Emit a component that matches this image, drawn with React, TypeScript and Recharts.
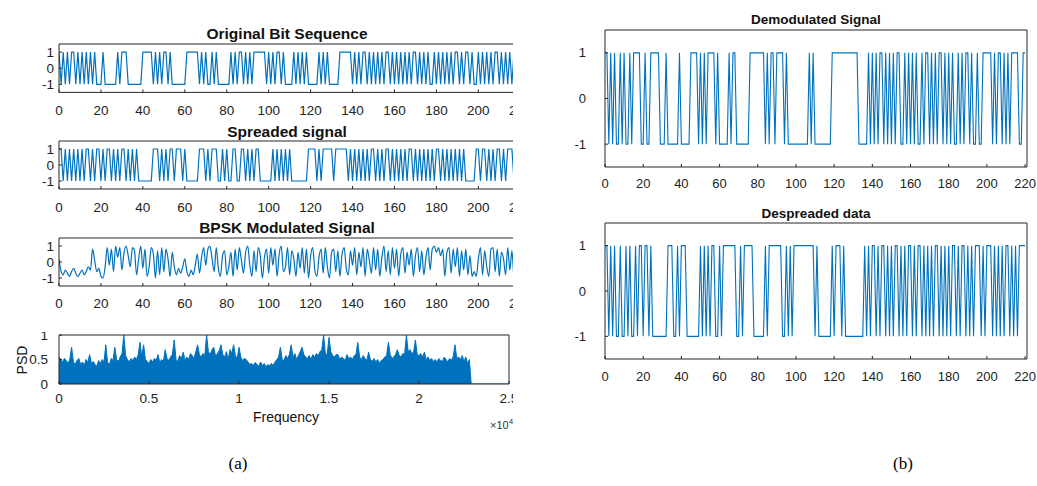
import { LineChart, Line, AreaChart, Area, XAxis, YAxis, ReferenceLine } from "recharts";

const FONT = "'Liberation Sans', Arial, sans-serif";
const AXIS = "#262626";
const BLUE = "#0072BD";

// tick labels
const signalTicks = [0, 20, 40, 60, 80, 100, 120, 140, 160, 180, 200, 220];
const levelTicks = [-1, 0, 1];
const freqTicks = [0, 5000, 10000, 15000, 20000, 25000];
const psdTicks = [0, 0.5, 1];

// bit streams (1 = +1, 0 = -1), one value per sample 0..220
const originalBits = [
  1, 0, 1, 0, 1, 0, 1, 1, 0, 1, 0, 1, 0, 1, 0, 1, 0, 1, 0, 0,
  0, 1, 0, 0, 0, 0, 0, 0, 1, 0, 1, 1, 1, 0, 0, 0, 0, 0, 0, 0,
  1, 1, 1, 1, 1, 0, 1, 0, 1, 0, 1, 1, 0, 1, 0, 0, 0, 0, 0, 0,
  0, 1, 1, 1, 1, 1, 1, 0, 1, 0, 1, 0, 0, 1, 0, 1, 0, 0, 0, 0,
  0, 0, 1, 0, 1, 0, 1, 1, 0, 1, 0, 1, 0, 1, 1, 1, 1, 1, 1, 0,
  1, 0, 1, 0, 1, 1, 0, 1, 0, 0, 0, 0, 1, 0, 1, 0, 1, 0, 1, 0,
  0, 0, 0, 0, 1, 0, 1, 0, 1, 0, 0, 0, 0, 0, 1, 1, 1, 1, 1, 1,
  0, 1, 0, 1, 0, 1, 1, 0, 1, 0, 1, 0, 1, 0, 1, 0, 1, 1, 0, 1,
  0, 1, 0, 1, 0, 1, 0, 1, 0, 1, 1, 0, 1, 0, 1, 0, 1, 0, 0, 1,
  0, 1, 0, 1, 0, 1, 0, 1, 0, 1, 1, 0, 1, 0, 1, 1, 0, 1, 0, 0,
  1, 0, 1, 0, 1, 0, 1, 0, 1, 1, 0, 1, 0, 1, 0, 1, 0, 1, 0, 1,
  0,
];

const spreadBits = [
  1, 1, 0, 1, 0, 1, 0, 1, 0, 1, 0, 1, 0, 1, 1, 0, 1, 0, 1, 1,
  0, 1, 0, 1, 1, 0, 1, 0, 1, 0, 1, 1, 0, 1, 0, 1, 0, 1, 0, 0,
  0, 0, 0, 0, 0, 1, 1, 1, 0, 1, 0, 1, 0, 1, 1, 0, 1, 1, 1, 0,
  1, 0, 0, 0, 0, 0, 0, 1, 1, 1, 0, 1, 0, 1, 1, 1, 0, 0, 1, 0,
  1, 0, 0, 1, 1, 0, 0, 1, 1, 0, 1, 0, 1, 0, 1, 1, 0, 0, 0, 0,
  0, 0, 1, 0, 1, 0, 1, 0, 1, 0, 1, 0, 0, 0, 0, 0, 0, 0, 0, 1,
  1, 1, 1, 0, 1, 0, 1, 1, 1, 1, 1, 0, 1, 1, 1, 1, 1, 1, 0, 1,
  0, 1, 0, 1, 0, 1, 0, 1, 0, 1, 1, 0, 1, 0, 1, 0, 1, 1, 0, 1,
  0, 1, 0, 1, 0, 1, 0, 1, 1, 0, 1, 0, 1, 0, 1, 0, 1, 0, 1, 0,
  1, 1, 0, 1, 0, 1, 0, 1, 0, 1, 0, 1, 0, 1, 0, 0, 0, 0, 0, 1,
  1, 0, 1, 1, 0, 1, 0, 1, 0, 1, 1, 0, 1, 0, 1, 1, 1, 0, 1, 0,
  1,
];

const demodBits = [
  1, 1, 0, 1, 0, 1, 0, 0, 1, 0, 1, 0, 0, 1, 0, 1, 1, 1, 1, 0,
  0, 1, 0, 0, 1, 1, 1, 1, 1, 0, 0, 0, 1, 0, 0, 0, 0, 0, 0, 1,
  0, 0, 0, 0, 0, 1, 1, 1, 1, 0, 1, 0, 1, 0, 1, 1, 1, 1, 0, 1,
  0, 0, 0, 0, 0, 1, 0, 1, 1, 0, 0, 0, 0, 0, 0, 0, 1, 1, 1, 1,
  1, 1, 1, 1, 0, 1, 0, 1, 1, 0, 1, 1, 1, 1, 0, 1, 0, 0, 0, 0,
  0, 0, 0, 0, 0, 0, 0, 1, 0, 1, 0, 0, 0, 0, 0, 0, 0, 0, 0, 1,
  1, 1, 1, 1, 1, 1, 1, 1, 1, 1, 1, 1, 1, 0, 0, 0, 0, 0, 1, 0,
  1, 0, 1, 0, 1, 1, 0, 1, 0, 1, 0, 1, 0, 1, 1, 0, 0, 1, 0, 1,
  0, 1, 0, 1, 0, 0, 1, 0, 1, 1, 0, 1, 0, 1, 0, 1, 1, 0, 1, 0,
  1, 0, 1, 0, 0, 1, 0, 1, 0, 1, 1, 0, 1, 0, 0, 1, 0, 0, 1, 1,
  1, 1, 1, 0, 1, 0, 1, 1, 0, 1, 0, 1, 0, 1, 1, 1, 1, 0, 0, 1,
  1,
];

const despreadBits = [
  1, 1, 0, 1, 0, 1, 0, 0, 1, 0, 0, 1, 0, 1, 0, 0, 1, 0, 1, 1,
  0, 1, 1, 0, 1, 0, 0, 0, 0, 0, 0, 0, 0, 1, 1, 1, 0, 0, 1, 0,
  1, 1, 1, 0, 0, 0, 0, 0, 0, 0, 1, 0, 1, 0, 1, 0, 1, 1, 0, 0,
  1, 0, 1, 1, 1, 1, 1, 1, 1, 0, 0, 1, 0, 1, 1, 1, 1, 1, 0, 0,
  0, 0, 0, 0, 1, 0, 1, 1, 1, 1, 1, 1, 1, 0, 0, 1, 0, 1, 0, 1,
  1, 1, 1, 1, 1, 1, 1, 1, 1, 1, 0, 1, 0, 0, 0, 0, 0, 0, 0, 1,
  0, 1, 1, 1, 0, 1, 0, 0, 0, 0, 0, 0, 0, 0, 0, 0, 1, 0, 1, 0,
  1, 1, 0, 1, 0, 1, 1, 0, 1, 0, 1, 0, 1, 1, 0, 1, 0, 1, 0, 1,
  1, 0, 1, 0, 1, 1, 0, 1, 0, 1, 0, 1, 0, 1, 1, 0, 1, 0, 1, 0,
  1, 0, 1, 1, 0, 1, 0, 1, 1, 0, 1, 0, 1, 0, 1, 1, 1, 0, 1, 0,
  1, 1, 1, 0, 1, 0, 1, 0, 1, 0, 1, 1, 0, 1, 0, 1, 0, 1, 1, 1,
  1,
];

// BPSK modulated waveform, samples 0..220
const bpskValues = [
  0.2, -0.6, -0.8, -0.5, -0.7, -0.9, -0.6, -0.4, -0.7, -0.9, -0.7, -0.5, -0.8, -0.6, -0.3, -0.5,
  0.8, 0.1, -0.6, -0.4, -0.9, -1.0, -0.3,
  0.9, -0.2, 0.8, -0.6, 1.0, 0.3, 0.9, -0.5, 0.6, 1.0, 0.4, -0.3, 0.9, 0.7, -0.8, 0.2, 1.0, -0.4,
  0.8, -0.9, -0.3, 0.9, 0.5, -1.0, 0.7, -0.8, 0.9, -0.6, 0.8, 0.2, -0.9, 0.6, -0.3,
  -0.8, -0.4, -0.7, -0.3, 0.2, -0.6, -0.9, -0.5, -0.8, -0.2, 0.5, -0.7, 0.3, 0.9, -0.2,
  0.8, 1.0, 0.2, -0.6, 0.9, -0.4, -0.9, 0.4, 0.7, -0.8, -0.3, 0.6, -0.9, 0.8, -0.5,
  0.9, 0.1, -0.7, 0.6, 1.0, -0.2, -0.9, 0.7, -0.6, 0.9, 0.4, -1.0, 0.3, 0.8, -0.7,
  0.9, -0.2, 0.8, -0.9, 0.5, 1.0, -0.6, -0.3, 0.9, -0.8, 0.7, 0.2, -0.9, 0.6, -0.4, 0.9, -0.7, 0.8, -1.0, 0.4,
  0.9, -0.5, -0.9, 0.3, 0.8, -0.7, 0.9, -0.3, -1.0, 0.6, 0.8, -0.6, 0.7, -0.9, 0.5, 0.9, -0.4, -0.8, 0.7, -0.2,
  0.9, -0.8, 0.6, -0.3, 0.9, -0.9, 0.8, 0.1, -0.7, 0.9, -0.5, 0.8, -0.9, 0.3, 1.0, -0.6, 0.7, -0.8, 0.9, -0.4,
  0.8, -0.9, 0.5, 0.9, -0.7, 0.6, -0.2, 0.8, -0.9, 0.4, 0.9, -0.6, 0.7, -0.8, 0.3, 0.9, -0.5, 0.8, 1.0, 0.6,
  0.9, 0.4, 0.8, -0.9, 0.6, 0.9, -0.7, 0.8, -0.3, 0.9, -0.9, 0.7, -0.5, 0.8, -0.8, 0.4, -0.9, -0.6, -0.9, 0.2,
  0.9, -0.8, 0.7, -0.3, -0.9, 0.8, 0.9, -0.6, 0.8, -0.9, 0.6, 0.2, -0.8, 0.9, -0.5, 0.7, -0.9, 0.8, 0.3, -0.7,
];

// PSD, one value per 100 Hz from 0 to 22800 Hz, zero above
const psdStep = 100;
const psdValues = [
  0.55, 0.5, 0.45, 0.52, 0.48, 0.42, 0.5, 0.75, 0.45, 0.4,
  0.48, 0.52, 0.4, 0.45, 0.38, 0.5, 0.44, 0.6, 0.42, 0.46,
  0.4, 0.36, 0.48, 0.42, 0.5, 0.45, 0.8, 0.44, 0.4, 0.52,
  0.48, 0.75, 0.5, 0.46, 0.55, 0.62, 1.0, 0.58, 0.5, 0.45,
  0.52, 0.48, 0.55, 0.5, 0.6, 0.85, 0.55, 0.8, 0.5, 0.46,
  0.42, 0.5, 0.45, 0.52, 0.48, 0.6, 0.44, 0.5, 0.46, 0.7,
  0.52, 0.48, 0.55, 0.6, 0.9, 0.5, 0.46, 0.58, 0.52, 0.65,
  0.48, 0.55, 0.5, 0.62, 0.58, 0.52, 0.66, 0.8, 0.6, 0.55,
  0.62, 0.58, 1.0, 0.66, 0.6, 0.7, 0.75, 0.56, 0.62, 0.68,
  0.8, 0.6, 0.55, 0.66, 0.5, 0.7, 0.62, 0.8, 0.58, 0.52,
  0.75, 0.55, 0.48, 0.52, 0.5, 0.45, 0.4, 0.42, 0.38, 0.44,
  0.4, 0.36, 0.45, 0.38, 0.42, 0.35, 0.4, 0.37, 0.42, 0.38,
  0.45, 0.5, 0.55, 0.75, 0.5, 0.48, 0.58, 0.52, 0.6, 0.8,
  0.55, 0.62, 0.5, 0.58, 0.66, 0.75, 0.6, 0.55, 0.52, 0.58,
  0.5, 0.6, 0.55, 0.62, 0.58, 0.66, 0.7, 1.0, 0.62, 0.6,
  0.95, 0.66, 0.58, 0.55, 0.6, 0.6, 0.5, 0.55, 0.52, 0.48,
  0.6, 0.52, 0.55, 0.5, 0.58, 0.6, 0.85, 0.55, 0.5, 0.58,
  0.52, 0.48, 0.65, 0.5, 0.46, 0.52, 0.45, 0.5, 0.42, 0.48,
  0.5, 0.55, 0.58, 0.85, 0.6, 0.52, 0.55, 0.6, 0.7, 0.58,
  0.55, 0.62, 0.6, 1.0, 0.66, 0.7, 0.62, 0.65, 0.9, 0.6,
  0.58, 0.62, 0.55, 0.65, 0.5, 0.55, 0.48, 0.52, 0.46, 0.5,
  0.45, 0.52, 0.48, 0.46, 0.55, 0.5, 0.45, 0.52, 0.48, 0.56,
  0.8, 0.52, 0.55, 0.5, 0.58, 0.46, 0.55, 0.42, 0.5,
];
const psdTailFreqs = [22900, 25000];

const bitRows = (bits: number[]) => bits.map((b, i) => ({ x: i, v: b ? 1 : -1 }));
const originalRows = bitRows(originalBits);
const spreadRows = bitRows(spreadBits);
const demodRows = bitRows(demodBits);
const despreadRows = bitRows(despreadBits);
const bpskRows = bpskValues.map((v, i) => ({ x: i, v }));
const psdRows = [
  ...psdValues.map((v, i) => ({ x: i * psdStep, v })),
  ...psdTailFreqs.map((f) => ({ x: f, v: 0 })),
];

interface PanelProps {
  left: number;
  top: number;
  width: number;
  height: number;
  rows: { x: number; v: number }[];
  xDomain: [number, number];
  xTicks: number[];
  yDomain: [number, number];
  yTicks: number[];
  fontSize: number;
  xGap: number;
  yGap: number;
  xFmt?: (v: number) => string;
  curve?: "linear" | "monotone";
  area?: boolean;
  lineWidth?: number;
}

function Panel(p: PanelProps) {
  const yw = 50;
  const xh = 34;
  const m = 3;
  const mr = 14;
  const tickStyle = { fill: "#222", fontSize: p.fontSize, fontFamily: FONT };
  const Chart: any = p.area ? AreaChart : LineChart;
  return (
    <div style={{ position: "absolute", left: p.left - yw, top: p.top - m }}>
      <Chart
        width={yw + p.width + mr}
        height={m + p.height + xh}
        data={p.rows}
        margin={{ top: m, right: mr, bottom: 0, left: 0 }}
      >
        <XAxis
          dataKey="x"
          type="number"
          domain={p.xDomain}
          ticks={p.xTicks}
          interval={0}
          allowDataOverflow
          tickSize={-3}
          tickMargin={p.xGap}
          height={xh}
          stroke={AXIS}
          tick={tickStyle}
          tickFormatter={p.xFmt}
        />
        <YAxis
          type="number"
          domain={p.yDomain}
          ticks={p.yTicks}
          interval={0}
          allowDataOverflow
          tickSize={-3}
          tickMargin={p.yGap}
          width={yw}
          stroke={AXIS}
          tick={tickStyle}
        />
        {/* box edges: top and right */}
        <ReferenceLine y={p.yDomain[1]} stroke={AXIS} strokeWidth={1} ifOverflow="visible" />
        <ReferenceLine x={p.xDomain[1]} stroke={AXIS} strokeWidth={1} ifOverflow="visible" />
        {p.area ? (
          <Area
            type="linear"
            dataKey="v"
            stroke={BLUE}
            strokeWidth={1}
            fill={BLUE}
            fillOpacity={1}
            dot={false}
            isAnimationActive={false}
          />
        ) : (
          <Line
            type={p.curve || "linear"}
            dataKey="v"
            stroke={BLUE}
            strokeWidth={p.lineWidth || 1.2}
            dot={false}
            isAnimationActive={false}
          />
        )}
      </Chart>
    </div>
  );
}

function Label({ x, y, size, bold, text, serif }: { x: number; y: number; size: number; bold?: boolean; text: string; serif?: boolean }) {
  return (
    <div
      style={{
        position: "absolute",
        left: x,
        top: y - size / 2,
        transform: "translateX(-50%)",
        fontFamily: serif ? "'Liberation Serif', 'Times New Roman', serif" : FONT,
        fontSize: size,
        lineHeight: `${size}px`,
        fontWeight: bold ? "bold" : "normal",
        color: serif ? "#000" : "#111",
        whiteSpace: "nowrap",
      }}
    >
      {text}
    </div>
  );
}

export default function App() {
  const leftW = 461.3;
  const common = { xTicks: signalTicks, yTicks: levelTicks, yDomain: [-1.5, 1.5] as [number, number] };
  return (
    <div style={{ position: "absolute", left: 0, top: 0, width: 1037, height: 486, background: "#fff", overflow: "hidden" }}>
      <div style={{ position: "absolute", left: 0, top: 0, width: 513, height: 440, overflow: "hidden" }}>
        <Label x={287} y={33.3} size={15.5} bold text="Original Bit Sequence" />
        <Panel {...common} left={58.7} top={43.6} width={leftW} height={48.4} rows={originalRows} xDomain={[0, 220]} fontSize={13.5} xGap={16} yGap={8} />
        <Label x={287} y={131.7} size={15.5} bold text="Spreaded signal" />
        <Panel {...common} left={58.7} top={141} width={leftW} height={48} rows={spreadRows} xDomain={[0, 220]} fontSize={13.5} xGap={16} yGap={8} />
        <Label x={287} y={228} size={15.5} bold text="BPSK Modulated Signal" />
        <Panel {...common} left={58.7} top={238} width={leftW} height={48} rows={bpskRows} xDomain={[0, 220]} fontSize={13.5} xGap={15} yGap={8} curve="monotone" />
        <Panel
          left={58.5}
          top={335}
          width={450}
          height={49}
          rows={psdRows}
          xDomain={[0, 25000]}
          xTicks={freqTicks}
          yDomain={[0, 1]}
          yTicks={psdTicks}
          fontSize={13.5}
          xGap={12.5}
          yGap={14}
          xFmt={(v: number) => String(v / 10000)}
          area
        />
        <Label x={286} y={417} size={14} text="Frequency" />
        <div
          style={{
            position: "absolute",
            left: 22,
            top: 360,
            transform: "translate(-50%, -50%) rotate(-90deg)",
            fontFamily: FONT,
            fontSize: 14,
            color: "#111",
            whiteSpace: "nowrap",
          }}
        >
          PSD
        </div>
      </div>
      <div style={{ position: "absolute", left: 490, top: 417, fontFamily: FONT, fontSize: 11, color: "#333", whiteSpace: "nowrap" }}>
        ×10<sup style={{ fontSize: 8 }}>4</sup>
      </div>

      <Label x={816} y={20} size={13.5} bold text="Demodulated Signal" />
      <Panel {...common} left={605} top={29.5} width={422} height={137} rows={demodRows} xDomain={[0, 221]} fontSize={13} xGap={15} yGap={22} lineWidth={1.1} />
      <Label x={816} y={213.3} size={13.5} bold text="Despreaded data" />
      <Panel {...common} left={605} top={223.3} width={422} height={136} rows={despreadRows} xDomain={[0, 221]} fontSize={13} xGap={15.7} yGap={22} lineWidth={1.1} />

      <Label x={238} y={463} size={17} serif text="(a)" />
      <Label x={903} y={463} size={17} serif text="(b)" />
    </div>
  );
}
